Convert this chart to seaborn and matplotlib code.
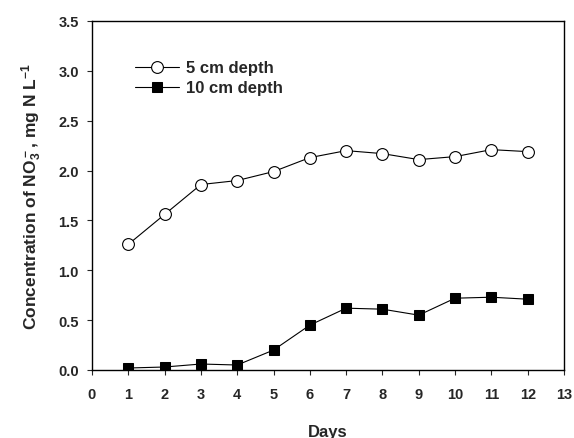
import matplotlib
matplotlib.use("Agg")
import matplotlib.pyplot as plt
import seaborn as sns

# data
days = [1, 2, 3, 4, 5, 6, 7, 8, 9, 10, 11, 12]
depth5 = [1.26, 1.56, 1.86, 1.90, 1.99, 2.13, 2.20, 2.17, 2.11, 2.14, 2.21, 2.19]
depth10 = [0.02, 0.03, 0.06, 0.05, 0.20, 0.45, 0.62, 0.61, 0.55, 0.72, 0.73, 0.71]
xticks = list(range(0, 14))
yticks = [0.0, 0.5, 1.0, 1.5, 2.0, 2.5, 3.0, 3.5]

sns.set_style("ticks")
plt.rcParams["font.family"] = ["Liberation Sans", "DejaVu Sans"]
plt.rcParams["font.weight"] = "bold"
plt.rcParams["mathtext.default"] = "regular"

fig = plt.figure(figsize=(5.74, 4.39), dpi=100)
ax = fig.add_axes([92 / 574, 1 - 371 / 439, (564 - 92) / 574, (371 - 22) / 439])

sns.lineplot(x=days, y=depth5, ax=ax, color="black", linewidth=0.8,
             marker="o", markersize=8.5, markerfacecolor="white",
             markeredgecolor="black", markeredgewidth=0.8, label="5 cm depth")
sns.lineplot(x=days, y=depth10, ax=ax, color="black", linewidth=0.8,
             marker="s", markersize=7.5, markerfacecolor="black",
             markeredgecolor="black", label="10 cm depth")

ax.set_xlim(0, 13)
ax.set_ylim(0, 3.5)
ax.set_xticks(xticks)
ax.set_yticks(yticks)
ax.set_yticklabels([f"{v:.1f}" for v in yticks])
ax.tick_params(direction="out", length=3.5, width=0.8, labelsize=10.5)
ax.tick_params(axis="x", pad=9)
ax.tick_params(axis="y", pad=6)
for lab in ax.get_xticklabels() + ax.get_yticklabels():
    lab.set_fontweight("bold")
for s in ax.spines.values():
    s.set_linewidth(1.0)
    s.set_color("black")

ax.set_xlabel("Days", fontsize=12, fontweight="bold", labelpad=16)
ax.set_ylabel("Concentration of NO$_3^-$, mg N L$^{-1}$", fontsize=12.5,
              fontweight="bold", labelpad=10)

leg = ax.legend(loc="upper left", bbox_to_anchor=(0.06, 0.93), frameon=False,
                fontsize=12, handlelength=2.6, handletextpad=0.45,
                labelspacing=0.3)
for t in leg.get_texts():
    t.set_fontweight("bold")

fig.savefig("out.png", dpi=100)
